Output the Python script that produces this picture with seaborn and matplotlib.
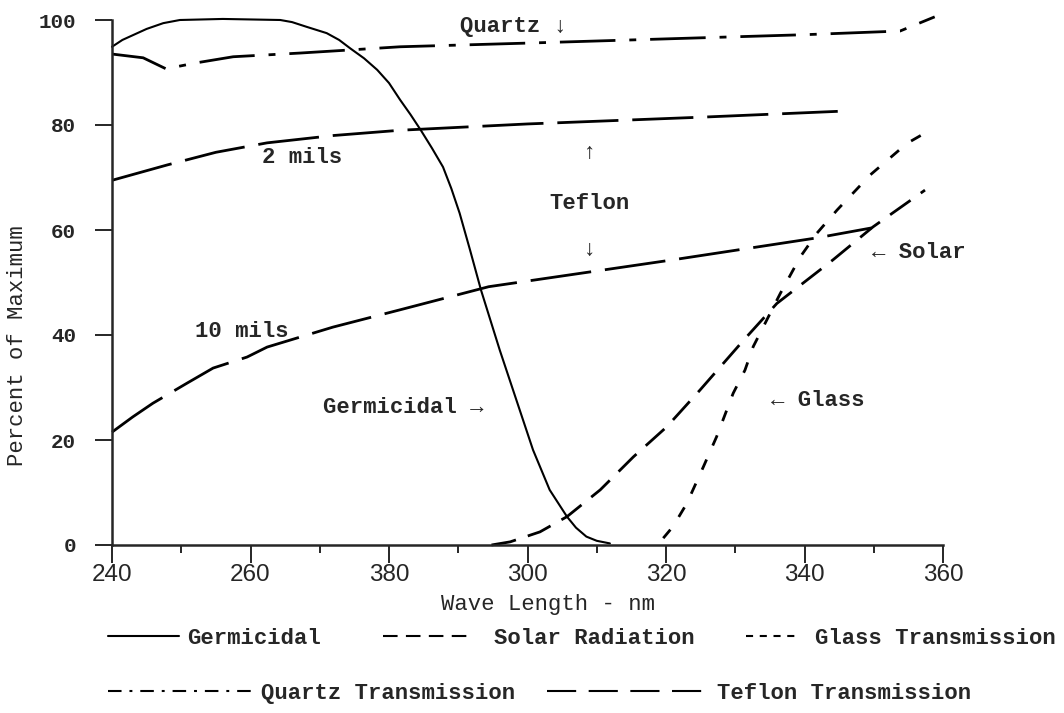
import numpy as np
import pandas as pd
import matplotlib
matplotlib.use("Agg")
import matplotlib.pyplot as plt
from matplotlib.lines import Line2D
import seaborn as sns

# (wavelength nm, percent of maximum)
germ_nm = [240, 241.5, 243, 245, 247.4, 249.8, 256, 264.3, 266, 268.1, 271, 272.8, 274.4,
           276.4, 278.3, 280, 281.6, 283.1, 284.6, 286.2, 287.8, 289, 290.2, 291.7, 293.3,
           296, 298.4, 300.8, 303.2, 305.7, 307, 308.5, 310, 311.9]
germ_pct = [94.9, 96.2, 97.1, 98.3, 99.4, 100, 100.2, 100, 99.6, 98.7, 97.5, 96.2, 94.6,
            92.7, 90.5, 88, 84.8, 82, 79, 75.6, 72, 67.9, 63.2, 56.2, 48.5,
            37.1, 27.6, 18.1, 10.5, 5.4, 3.3, 1.6, 0.8, 0.3]

solar_nm = [294.8, 297.5, 301.8, 305.7, 310.5, 315.3, 320.1, 324.9, 331.2, 336, 344.1, 349.9, 357.4]
solar_pct = [0, 0.6, 2.5, 5.4, 10.5, 16.8, 22.5, 29.5, 39, 46, 54.3, 60.6, 67.6]

glass_nm = [319.6, 321, 323, 325.4, 327.3, 329.7, 331.4, 332.6, 336.5, 339.4, 341.8, 344.7, 349.5, 354.8, 358.1]
glass_pct = [1.3, 3.5, 7.9, 14.9, 20.6, 28.9, 33.3, 37.8, 47.9, 54.9, 59.4, 63.8, 70.5, 76.5, 79]

quartz_nm = [240.1, 244.5, 247.8, 252, 257.5, 267.1, 272, 281.6, 300, 324.9, 340, 353.8, 358.8]
quartz_pct = [93.5, 92.8, 90.7, 91.8, 93, 93.7, 94.1, 94.9, 95.6, 96.6, 97.2, 97.9, 100.6]

teflon2_nm = [240.1, 248, 255, 262.4, 272, 281.6, 300, 325.3, 344.8]
teflon2_pct = [69.5, 72.4, 74.8, 76.6, 78, 79, 80.2, 81.5, 82.6]

teflon10_nm = [240, 243, 245.9, 250.8, 254.6, 259.5, 262.4, 271.9, 281.6, 294.4, 320.9, 341.8, 349.7]
teflon10_pct = [21.5, 24.4, 27, 30.8, 33.7, 35.8, 37.7, 41.5, 44.8, 49.2, 54.3, 58.5, 60.4]

x_ticks = [240, 260, 280, 300, 320, 340, 360]
x_ticklabels = ["240", "260", "380", "300", "320", "340", "360"]
y_ticks = [0, 20, 40, 60, 80, 100]

MONO = ["Liberation Mono", "DejaVu Sans Mono"]
NARROW = ["Liberation Sans Narrow", "Liberation Sans", "DejaVu Sans"]

sns.set_style("ticks")
plt.rcParams["font.family"] = MONO
plt.rcParams["font.weight"] = "bold"

fig = plt.figure(figsize=(10.64, 7.13), dpi=100)
ax = fig.add_axes([112 / 1064, 1 - 545 / 713, 831 / 1064, 525 / 713])

series = [
    (germ_nm, germ_pct, "-", 1.5),
    (solar_nm, solar_pct, (0, (9, 4.5)), 2.0),
    (glass_nm, glass_pct, (0, (4, 5.5)), 2.0),
    (quartz_nm, quartz_pct, (0, (20, 5, 2.5, 5)), 2.0),
    (teflon2_nm, teflon2_pct, (0, (22, 5)), 2.0),
    (teflon10_nm, teflon10_pct, (0, (22, 5)), 2.0),
]
for xs, ys, ls, lw in series:
    df = pd.DataFrame({"nm": xs, "pct": ys})
    sns.lineplot(data=df, x="nm", y="pct", ax=ax, color="black", linestyle=ls,
                 linewidth=lw, estimator=None, sort=False, clip_on=False)

ax.set_xlim(240, 360)
ax.set_ylim(0, 100)
sns.despine(ax=ax)
for s in ["left", "bottom"]:
    ax.spines[s].set_linewidth(1.8)

ax.set_xticks(x_ticks)
ax.set_xticklabels(x_ticklabels, family=NARROW, fontsize=17.5, fontweight="normal")
ax.set_xticks(np.arange(250, 360, 20), minor=True)
ax.tick_params(axis="x", which="major", length=13, width=1.4, pad=1)
ax.tick_params(axis="x", which="minor", length=6, width=1.4)
ax.set_yticks(y_ticks)
ax.set_yticklabels([str(v) for v in y_ticks], fontsize=15)
ax.tick_params(axis="y", length=12, width=1.4, pad=14)

ax.set_xlabel("Wave Length - nm", fontsize=16, fontweight="normal")
ax.set_ylabel("Percent of Maximum", fontsize=16)
ax.xaxis.set_label_coords(0.525, -0.093)
ax.yaxis.set_label_coords(-0.101, 0.379)

# in-plot annotations
notes = [
    (290.3, 98.7, "Quartz \u2193"),
    (261.7, 73.9, "2 mils"),
    (309.0, 74.7, "\u2191"),
    (309.0, 65.1, "Teflon"),
    (309.0, 56.2, "\u2193"),
    (252.0, 40.6, "10 mils"),
    (270.5, 26.1, "Germicidal \u2192"),
    (335.2, 27.6, "\u2190 Glass"),
    (349.7, 55.8, "\u2190 Solar"),
]
for x, y, t in notes:
    ha = "center" if t in ("\u2191", "\u2193", "Teflon") else "left"
    ax.text(x, y, t, ha=ha, va="center", fontsize=16, family=MONO)

# legend, two hand-spaced rows like the original
legend_items = [
    ("Germicidal", "-", 0.1015, 0.105, 3.2, 0.35),
    ("Solar Radiation", (0, (7, 4)), 0.360, 0.105, 3.8, 1.2),
    ("Glass Transmission", (0, (3.4, 3.2)), 0.701, 0.105, 2.2, 0.9),
    ("Quartz Transmission", (0, (6.5, 3.8, 1.4, 3.8)), 0.1015, 0.028, 6.5, 0.4),
    ("Teflon Transmission", (0, (14, 6)), 0.514, 0.028, 7.2, 0.45),
]
for label, ls, lx, ly, hl, tp in legend_items:
    h = Line2D([], [], color="black", linestyle=ls, linewidth=1.5)
    fig.legend(handles=[h], labels=[label], loc="center left", bbox_to_anchor=(lx, ly),
               frameon=False, borderpad=0, borderaxespad=0, handlelength=hl,
               handletextpad=tp, prop={"family": MONO, "size": 16, "weight": "bold"})

fig.savefig("out.png", dpi=100)
